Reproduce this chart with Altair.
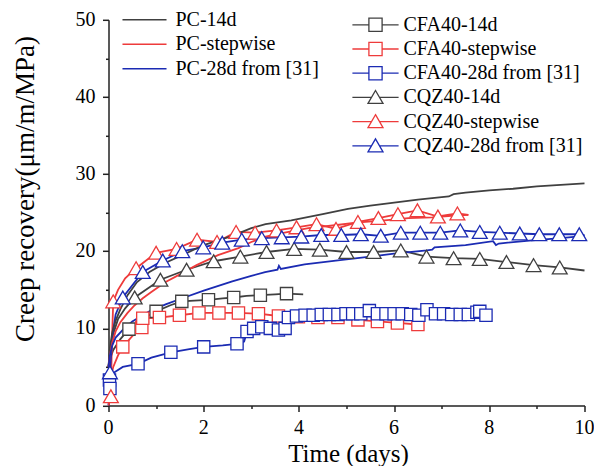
import altair as alt
import pandas as pd

GRAY, RED, BLUE = "#404040", "#ee3b3b", "#1b2bb3"
FONT = "Liberation Serif"

# ---------------- tick labels ----------------
x_tick_labels = [0, 2, 4, 6, 8, 10]
y_tick_labels = [0, 10, 20, 30, 40, 50]

# ---------------- line-only series ----------------
pc14_x = [0, 0.03, 0.08, 0.15, 0.25, 0.4, 0.6, 0.86, 1.2, 1.55, 2.0, 2.6, 3.0, 3.3, 3.84, 4.5, 5.03, 5.5, 6.0, 6.5, 7.0, 7.15, 7.25, 7.5, 8.0, 8.5, 9.0, 9.5, 10.0]
pc14_y = [5, 7.5, 9.5, 11.0, 12.5, 14.3, 16.0, 17.3, 18.5, 19.5, 20.8, 22.0, 23.0, 23.5, 24.0, 24.8, 25.5, 25.9, 26.3, 26.7, 27.0, 27.1, 27.4, 27.6, 27.9, 28.1, 28.4, 28.6, 28.8]

pcs_x = [0, 0.03, 0.08, 0.15, 0.25, 0.4, 0.55, 0.72, 0.9, 1.2, 1.5, 1.85, 2.3, 2.73, 3.0, 3.3, 3.7, 4.2, 4.8, 5.2, 5.8, 6.3, 6.8, 7.2, 7.56]
pcs_y = [5, 6.5, 8.2, 9.6, 10.8, 12.0, 13.0, 13.9, 14.7, 16.0, 17.0, 18.2, 19.5, 20.4, 21.2, 21.9, 22.4, 23.0, 23.4, 23.7, 24.0, 24.3, 24.4, 24.6, 24.7]

pc28_x = [0, 0.03, 0.08, 0.15, 0.3, 0.5, 0.86, 1.2, 1.55, 2.0, 2.6, 3.0, 3.29, 3.55, 3.58, 3.62, 4.12, 4.82, 5.5, 6.0, 6.69, 6.8, 6.85, 7.5, 8.08, 8.14, 8.2, 8.9, 9.5, 10.0]
pc28_y = [5, 6.5, 7.8, 8.8, 9.8, 10.9, 12.2, 13.1, 13.9, 14.9, 16.1, 16.8, 17.3, 17.6, 18.1, 17.7, 18.3, 18.8, 19.3, 19.7, 20.1, 20.2, 20.5, 20.8, 21.3, 20.8, 21.0, 21.4, 21.7, 22.0]

# ---------------- marker series: extra line readings + marker readings ----------------
cfa14_lx = [0, 0.03, 0.1, 0.25, 0.7, 1.3, 1.8, 2.4, 2.9, 3.5, 4.09]
cfa14_ly = [5, 6.0, 7.2, 8.6, 11.2, 13.0, 13.6, 13.9, 14.2, 14.4, 14.4]
cfa14_mx = [0.43, 1.0, 1.54, 2.1, 2.63, 3.19, 3.74]
cfa14_my = [9.9, 12.2, 13.5, 13.7, 14.0, 14.3, 14.5]

cfas_lx = [0, 0.03, 0.1, 0.2, 0.5, 6.6]
cfas_ly = [1.0, 3.0, 5.0, 6.5, 9.0, 10.6]
cfas_mx = [0.3, 0.7, 0.72, 1.07, 1.49, 1.9, 2.32, 2.73, 3.15, 3.57, 3.99, 4.4, 4.82, 5.24, 5.65, 6.07, 6.5]
cfas_my = [7.6, 10.1, 11.3, 11.4, 11.7, 12.0, 12.0, 12.0, 11.9, 11.6, 11.5, 11.4, 11.4, 11.1, 10.9, 10.7, 10.5]

cfa28_lx = [0, 0.05, 0.1, 0.3, 0.9, 1.7, 2.4, 2.85, 7.95]
cfa28_ly = [0, 3.5, 4.2, 5.0, 6.2, 7.3, 7.8, 8.3, 11.8]
cfa28_mx = [0.02, 0.03, 0.62, 1.31, 2.0, 2.7, 2.91, 3.05, 3.22, 3.4, 3.57, 3.71, 3.78, 3.95, 4.13, 4.3, 4.47,
            4.64, 4.82, 4.99, 5.13, 5.3, 5.48, 5.65, 5.83, 6.0, 6.17, 6.35, 6.52, 6.69, 6.87, 7.04, 7.21,
            7.39, 7.56, 7.74, 7.8, 7.93]
cfa28_my = [3.3, 2.2, 5.4, 6.9, 7.6, 8.0, 9.6, 10.0, 10.2, 10.0, 9.8, 10.0, 11.4, 11.6, 11.7, 11.7, 11.8,
            11.8, 11.8, 11.9, 11.9, 11.9, 12.3, 11.9, 11.9, 11.9, 11.9, 11.8, 11.7, 12.4, 11.9, 11.9, 11.8,
            11.8, 11.8, 12.1, 12.2, 11.7]

cqz14_lx = [0, 0.03, 0.1, 0.2, 0.35, 10.0]
cqz14_ly = [5, 7.0, 9.3, 11.2, 12.6, 17.5]
cqz14_mx = [0.55, 1.09, 1.64, 2.21, 2.77, 3.32, 3.9, 4.44, 5.0, 5.57, 6.14, 6.68, 7.25, 7.8, 8.36, 8.93, 9.48]
cqz14_my = [14.0, 16.3, 17.6, 18.7, 19.3, 19.9, 20.3, 20.2, 19.9, 19.9, 20.1, 19.3, 19.1, 19.0, 18.6, 18.2, 17.9]

cqzs_lx = [0, 0.07, 0.2, 0.35, 7.56]
cqzs_ly = [0, 8.0, 15.0, 16.5, 24.7]
cqzs_mx = [0.05, 0.1, 0.58, 1.0, 1.43, 1.86, 2.28, 2.68, 3.08, 3.53, 3.95, 4.37, 4.78, 5.24, 5.67, 6.08, 6.49, 6.92, 7.33]
cqzs_my = [1.2, 13.5, 17.8, 19.8, 20.3, 21.5, 21.2, 22.5, 22.4, 22.7, 23.1, 23.5, 22.9, 23.8, 24.3, 24.8, 25.3, 24.5, 24.9]

cqz28_lx = [0, 0.08, 0.15, 10.0]
cqz28_ly = [2.0, 9.0, 11.8, 22.1]
cqz28_mx = [0.03, 0.3, 0.72, 1.14, 1.55, 1.99, 2.39, 2.8, 3.22, 3.64, 4.05, 4.47, 4.89, 5.3, 5.72, 6.14, 6.55,
            6.97, 7.39, 7.8, 8.22, 8.64, 9.05, 9.47, 9.89]
cqz28_my = [4.3, 14.0, 17.3, 18.8, 20.0, 20.5, 21.1, 21.5, 21.7, 21.8, 21.9, 22.1, 22.1, 22.2, 22.0, 22.4, 22.4,
            22.4, 22.7, 22.5, 22.4, 22.3, 22.2, 22.2, 22.2]

PC_NAMES = ["PC-14d", "PC-stepwise", "PC-28d from [31]"]
PC_COLORS = [GRAY, RED, BLUE]
M_NAMES = ["CFA40-14d", "CFA40-stepwise", "CFA40-28d from [31]",
           "CQZ40-14d", "CQZ40-stepwise", "CQZ40-28d from [31]"]
M_COLORS = [GRAY, RED, BLUE, GRAY, RED, BLUE]
SQ = "M-3.85,0H-1.1M1.1,0H3.85M-1.1,-1.1H1.1V1.1H-1.1Z"
TR = "M-3.85,0H-0.66M0.66,0H3.85M0,-1.15L1.25,1.0L-1.25,1.0Z"
M_PATHS = [SQ, SQ, SQ, TR, TR, TR]

line_only = [(PC_NAMES[0], pc14_x, pc14_y), (PC_NAMES[1], pcs_x, pcs_y), (PC_NAMES[2], pc28_x, pc28_y)]
marked = [
    (M_NAMES[0], cfa14_lx, cfa14_ly, cfa14_mx, cfa14_my),
    (M_NAMES[1], cfas_lx, cfas_ly, cfas_mx, cfas_my),
    (M_NAMES[2], cfa28_lx, cfa28_ly, cfa28_mx, cfa28_my),
    (M_NAMES[3], cqz14_lx, cqz14_ly, cqz14_mx, cqz14_my),
    (M_NAMES[4], cqzs_lx, cqzs_ly, cqzs_mx, cqzs_my),
    (M_NAMES[5], cqz28_lx, cqz28_ly, cqz28_mx, cqz28_my),
]

pc_df = pd.concat([pd.DataFrame({"series": n, "x": xs, "y": ys}) for n, xs, ys in line_only])
mline_df = pd.concat([pd.DataFrame({"series": n, "x": list(lx) + list(mx), "y": list(ly) + list(my)})
                      for n, lx, ly, mx, my in marked])
mark_df = pd.concat([pd.DataFrame({"series": n, "x": mx, "y": my}) for n, lx, ly, mx, my in marked])
xlab_df = pd.DataFrame({"x": x_tick_labels, "label": [str(v) for v in x_tick_labels]})
ylab_df = pd.DataFrame({"y": y_tick_labels, "label": [str(v) for v in y_tick_labels]})

PLOT_W, PLOT_H = 476, 385.7

x_axis = alt.Axis(
    values=list(range(0, 11)), labels=False,
    tickSize={"condition": {"test": "datum.value % 2 === 0", "value": 6}, "value": 3},
    title="Time (days)", titleFont=FONT, titleFontSize=25, titleFontWeight="normal",
    titleColor="black", titleX=239.5, titleY=55.5, titleBaseline="alphabetic", titleAlign="center",
    grid=False,
)
y_axis = alt.Axis(
    values=list(range(0, 51, 5)), labels=False,
    tickSize={"condition": {"test": "datum.value % 10 === 0", "value": 6}, "value": 3},
    title="Creep recovery(μm/m/MPa)", titleFont=FONT, titleFontSize=27, titleFontWeight="normal",
    titleColor="black", titleX=-75, titleY=168.7, titleAngle=270, titleBaseline="alphabetic",
    titleAlign="center", grid=False,
)
X = alt.X("x:Q", scale=alt.Scale(domain=[0, 10], nice=False, zero=False), axis=x_axis)
Y = alt.Y("y:Q", scale=alt.Scale(domain=[0, 50], nice=False), axis=y_axis)

stroke_m = alt.Stroke("series:N", scale=alt.Scale(domain=M_NAMES, range=M_COLORS), legend=None)

m_lines = alt.Chart(mline_df).mark_line(strokeWidth=1.8).encode(x=X, y=Y, stroke=stroke_m, detail="series:N")

legend_a = alt.Legend(
    orient="none", legendX=26, legendY=-10, title=None,
    symbolType="M-3.67,0H3.67", symbolSize=144, symbolStrokeWidth=1.5,
    labelFont=FONT, labelFontSize=20, labelColor="black", labelOffset=21, labelLimit=400,
    rowPadding=4.5, padding=0,
)
pc_lines = alt.Chart(pc_df).mark_line(strokeWidth=1.8).encode(
    x=X, y=Y,
    color=alt.Color("series:N", scale=alt.Scale(domain=PC_NAMES, range=PC_COLORS), legend=legend_a),
)

sq_pts = alt.Chart(mark_df).transform_filter(
    alt.FieldOneOfPredicate(field="series", oneOf=M_NAMES[:3])
).mark_point(shape="square", size=150, filled=True, fill="white", strokeWidth=1.3, opacity=1).encode(
    x=X, y=Y, stroke=stroke_m)
tr_pts = alt.Chart(mark_df).transform_filter(
    alt.FieldOneOfPredicate(field="series", oneOf=M_NAMES[3:])
).mark_point(shape="triangle-up", size=220, filled=True, fill="white", strokeWidth=1.3, opacity=1).encode(
    x=X, y=Y, stroke=stroke_m)

legend_b = alt.Legend(
    orient="none", legendX=257, legendY=-5, title=None,
    symbolSize=144, symbolStrokeWidth=1.3, symbolFillColor="white",
    labelFont=FONT, labelFontSize=20, labelColor="black", labelOffset=18, labelLimit=400,
    rowPadding=4.2, padding=0,
)
legend_layer = alt.Chart(mark_df).transform_filter("datum.x < -100").mark_point(
    size=144, strokeWidth=1.3, filled=False, opacity=1).encode(
    x=X, y=Y,
    color=alt.Color("series:N", scale=alt.Scale(domain=M_NAMES, range=M_COLORS), legend=legend_b),
    shape=alt.Shape("series:N", scale=alt.Scale(domain=M_NAMES, range=M_PATHS), legend=legend_b),
)

x_labels = alt.Chart(xlab_df).mark_text(
    font=FONT, fontSize=20, color="black", align="center", baseline="alphabetic"
).encode(x=X, y=alt.value(PLOT_H + 28), text="label:N")
y_labels = alt.Chart(ylab_df).mark_text(
    font=FONT, fontSize=20, color="black", align="right", baseline="middle"
).encode(y=Y, x=alt.value(-13), text="label:N")

chart = alt.layer(m_lines, pc_lines, sq_pts, tr_pts, legend_layer, x_labels, y_labels).resolve_scale(
    color="independent", shape="independent"
).properties(
    width=PLOT_W, height=PLOT_H, autosize="none",
    padding={"left": 100.5, "top": 11.8, "right": 9, "bottom": 60.5},
    background="white",
).configure_view(stroke=None).configure_axis(
    titleFont=FONT,
    domainColor="#222222", domainWidth=1.5, tickColor="#222222", tickWidth=1.5,
)

chart.save("out.html", embed_options={"renderer": "svg", "actions": False})
